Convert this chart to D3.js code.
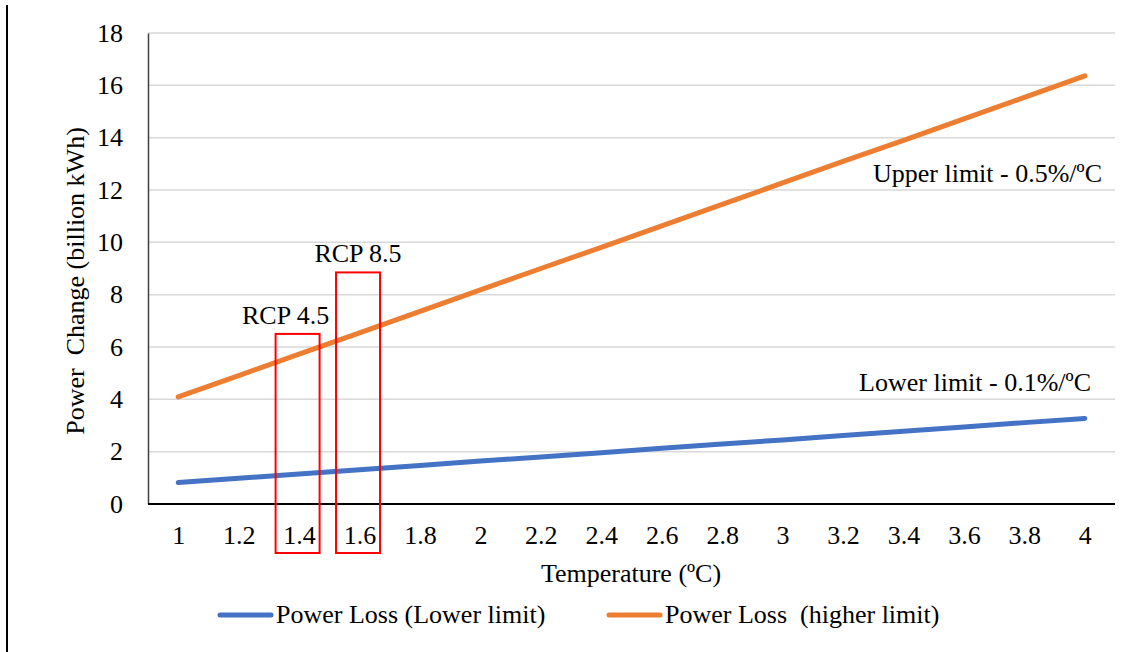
<!DOCTYPE html>
<html><head><meta charset="utf-8">
<script src="https://cdn.jsdelivr.net/npm/d3@7"></script>
<style>
body{margin:0;background:#fff;}
svg text{font-family:'Liberation Serif','Times New Roman',Times,'DejaVu Serif',serif !important;}
</style></head>
<body>
<svg id="chart" width="1141" height="652"></svg>
<script>
const categories = ["1","1.2","1.4","1.6","1.8","2","2.2","2.4","2.6","2.8","3","3.2","3.4","3.6","3.8","4"];
const lowerLimit = [0.82,0.98,1.15,1.31,1.47,1.64,1.80,1.96,2.13,2.29,2.45,2.62,2.78,2.94,3.11,3.27];
const higherLimit = [4.09,4.91,5.73,6.54,7.36,8.18,9.00,9.81,10.63,11.45,12.27,13.09,13.90,14.72,15.54,16.36];
const yTicks = [0,2,4,6,8,10,12,14,16,18];
const seriesNames = ["Power Loss (Lower limit)", "Power Loss  (higher limit)"];
const rcpBoxes = [{label:"RCP 4.5", cat:"1.4", top:6.5, dx:-12},{label:"RCP 8.5", cat:"1.6", top:8.85, dx:0}];

const FS = 26;
const svg = d3.select("#chart");
const m = {left:148, top:33, right:1115, bottom:504};
const x = d3.scalePoint().domain(categories).range([m.left, m.right]).padding(0.5);
const y = d3.scaleLinear().domain([0,18]).range([m.bottom, m.top]);

// outer left border
svg.append("line").attr("x1",7).attr("x2",7).attr("y1",5).attr("y2",652)
  .attr("stroke","#000").attr("stroke-width",2);

// gridlines
svg.append("g").selectAll("line").data(yTicks.filter(d=>d>0)).join("line")
  .attr("x1",m.left).attr("x2",m.right).attr("y1",d=>y(d)).attr("y2",d=>y(d))
  .attr("stroke","#d9d9d9").attr("stroke-width",1.5);

// y axis
const yAxis = svg.append("g").attr("transform",`translate(${m.left},0)`)
  .call(d3.axisLeft(y).tickValues(yTicks).tickSize(0).tickPadding(25));
yAxis.attr("font-family",null).attr("font-size",null);
yAxis.select(".domain").attr("stroke","#404040").attr("stroke-width",1.5);
yAxis.selectAll("text").attr("font-size",FS).attr("fill","#000");

// x axis
const xAxis = svg.append("g").attr("transform",`translate(0,${m.bottom})`)
  .call(d3.axisBottom(x).tickSize(0).tickPadding(22));
xAxis.attr("font-family",null).attr("font-size",null);
xAxis.select(".domain").attr("stroke","#000").attr("stroke-width",2)
  .attr("d",`M${m.left},0H${m.right}`);
xAxis.selectAll("text").attr("font-size",FS).attr("fill","#000");

// lines
const line = d3.line().x((d,i)=>x(categories[i])).y(d=>y(d));
svg.append("path").datum(lowerLimit).attr("d",line).attr("fill","none")
  .attr("stroke","#4472C4").attr("stroke-width",5).attr("stroke-linecap","round");
svg.append("path").datum(higherLimit).attr("d",line).attr("fill","none")
  .attr("stroke","#ED7D31").attr("stroke-width",5).attr("stroke-linecap","round");

// RCP boxes
rcpBoxes.forEach(b=>{
  const cx = x(b.cat) - 1.5;
  svg.append("rect").attr("x",cx-22).attr("y",y(b.top)).attr("width",44)
    .attr("height",553 - y(b.top)).attr("fill","none").attr("stroke","#ff0000").attr("stroke-width",2);
  svg.append("text").attr("x",cx+b.dx).attr("y",y(b.top)-10).attr("text-anchor","middle")
    .attr("font-size",FS).text(b.label);
});

// series annotations
svg.append("text").attr("x",1102).attr("y",182).attr("text-anchor","end").attr("font-size",FS)
  .text("Upper limit - 0.5%/ºC");
svg.append("text").attr("x",1091).attr("y",391).attr("text-anchor","end").attr("font-size",FS)
  .text("Lower limit - 0.1%/ºC");

// axis titles
svg.append("text").attr("x",631).attr("y",582).attr("text-anchor","middle")
  .attr("font-size",FS).text("Temperature (ºC)");
svg.append("text").attr("transform",`translate(84,281) rotate(-90)`)
  .attr("text-anchor","middle").attr("font-size",FS).style("white-space","pre")
  .text("Power  Change (billion kWh)");

// legend
const legend = [{name:seriesNames[0], color:"#4472C4", x:218},{name:seriesNames[1], color:"#ED7D31", x:607}];
legend.forEach(l=>{
  svg.append("line").attr("x1",l.x+2).attr("x2",l.x+53).attr("y1",615).attr("y2",615)
    .attr("stroke",l.color).attr("stroke-width",5).attr("stroke-linecap","round");
  svg.append("text").attr("x",l.x+58).attr("y",623).attr("font-size",FS)
    .style("white-space","pre").text(l.name);
});
</script>
</body></html>
